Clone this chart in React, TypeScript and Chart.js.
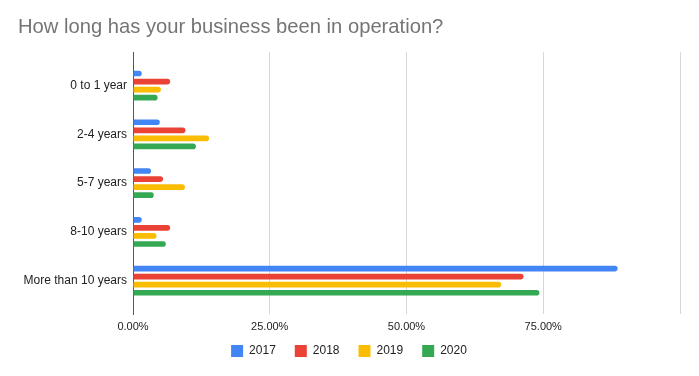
import React, { useEffect, useRef } from "react";
import { Chart, registerables } from "chart.js";

Chart.register(...registerables);

const categories = ["0 to 1 year", "2-4 years", "5-7 years", "8-10 years", "More than 10 years"];
const seriesNames = ["2017", "2018", "2019", "2020"];
const values2017 = [0.016, 0.049, 0.033, 0.016, 0.886];
const values2018 = [0.068, 0.096, 0.055, 0.068, 0.714];
const values2019 = [0.051, 0.139, 0.095, 0.043, 0.673];
const values2020 = [0.045, 0.115, 0.038, 0.06, 0.743];
const xTicks = [0, 0.25, 0.5, 0.75, 1];
const colors = ["#4285f4", "#ea4335", "#fbbc04", "#34a853"];

const FONT = "'Liberation Sans', Arial, Helvetica, sans-serif";

export default function App() {
  const ref = useRef<HTMLCanvasElement | null>(null);
  useEffect(() => {
    if (!ref.current) return;
    const all = [values2017, values2018, values2019, values2020];
    const chart = new Chart(ref.current, {
      type: "bar",
      data: {
        datasets: all.map((vals, i) => ({
          label: seriesNames[i],
          data: vals.map((v, j) => ({ x: v, y: j })),
          backgroundColor: colors[i],
          borderRadius: 3,
          categoryPercentage: 0.66,
          barPercentage: 0.7,
        })),
      },
      options: {
        indexAxis: "y",
        animation: false,
        responsive: true,
        maintainAspectRatio: false,
        layout: { padding: { left: 18, right: 19, top: 0, bottom: 19 } },
        plugins: {
          title: {
            display: true,
            text: "How long has your business been in operation?",
            align: "start",
            color: "#757575",
            font: { family: FONT, size: 20.2, weight: "normal", lineHeight: 1.2 },
            padding: { top: 15, bottom: 13 },
          },
          legend: {
            position: "bottom",
            maxHeight: 31,
            labels: {
              boxWidth: 12,
              boxHeight: 12,
              padding: 19,
              color: "#222",
              font: { family: FONT, size: 12 },
            },
          },
          tooltip: { enabled: false },
        },
        scales: {
          x: {
            type: "linear",
            min: 0,
            max: 1,
            afterBuildTicks: (s: any) => {
              s.ticks = xTicks.map((v) => ({ value: v }));
            },
            afterFit: (s: any) => {
              s.height = 12;
            },
            ticks: {
              color: "#222",
              font: { family: FONT, size: 11 },
              mirror: true,
              padding: -19.6,
              callback: (v: any) => (v >= 1 ? "" : (v * 100).toFixed(2) + "%"),
            },
            grid: { color: "#d6d6d6", drawTicks: false, lineWidth: 1 },
            border: { display: false },
          },
          y: {
            type: "linear",
            reverse: true,
            offset: false,
            min: -0.684,
            max: categories.length - 1 + 0.684,
            afterBuildTicks: (s: any) => {
              s.ticks = categories.map((_, i) => ({ value: i }));
            },
            afterFit: (s: any) => {
              s.width = 115;
              s.paddingTop = 0;
              s.paddingBottom = 0;
            },
            ticks: {
              color: "#222",
              font: { family: FONT, size: 12 },
              padding: 6,
              callback: (v: any) => categories[v] ?? "",
            },
            grid: { display: false, drawTicks: false },
            border: { display: true, color: "#555", width: 1 },
          },
        },
      },
    });
    return () => chart.destroy();
  }, []);
  return (
    <div style={{ position: "fixed", left: 0, top: 0, width: 699, height: 376, background: "#fff" }}>
      <canvas ref={ref} />
    </div>
  );
}
